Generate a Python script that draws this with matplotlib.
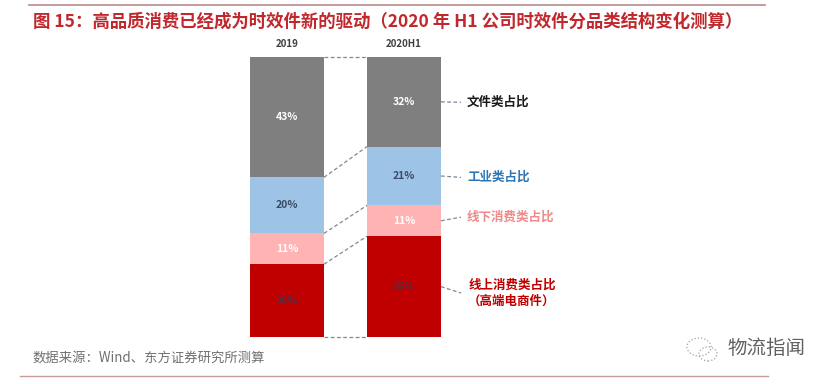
import matplotlib
matplotlib.use("Agg")
import matplotlib.pyplot as plt
from matplotlib.patches import Ellipse
from matplotlib.lines import Line2D
import numpy as np

plt.rcParams['font.family'] = ['Noto Sans CJK SC', 'DejaVu Sans']

# ---- data ----
periods = ["2019", "2020H1"]
segments = ["线上消费类占比", "线下消费类占比", "工业类占比", "文件类占比"]  # bottom -> top
online = [26, 36]
offline = [11, 11]
industrial = [20, 21]
documents = [43, 32]
value_labels_online = ["26%", "36%"]
value_labels_offline = ["11%", "11%"]
value_labels_industrial = ["20%", "21%"]
value_labels_documents = ["43%", "32%"]
right_labels = ["线上消费类占比\n（高端电商件）", "线下消费类占比", "工业类占比", "文件类占比"]

title = "图 15：高品质消费已经成为时效件新的驱动（2020 年 H1 公司时效件分品类结构变化测算）"
source = "数据来源：Wind、东方证券研究所测算"
watermark = "物流指闻"

# ---- styles ----
seg_colors = ["#c00000", "#ffb3b3", "#9dc3e6", "#7f7f7f"]
seg_text_colors = ["#5a2c40", "#ffffff", "#3b4a68", "#ffffff"]
label_colors = ["#c00000", "#ee8a8a", "#2e75b6", "#1a1a1a"]
conn_color = "#7a8899"

W, H = 832, 384
fig = plt.figure(figsize=(W / 100, H / 100), dpi=100)

def fx(px):
    return px / W

def fy(py):
    return 1 - py / H

# axes: bars span y 57..337 px, bar centers at 287 and 404 px
left_px, right_px = 230, 620
top_px, bot_px = 57, 337
c0, unit = 287, 117
ax = fig.add_axes([fx(left_px), fy(bot_px), fx(right_px - left_px), (bot_px - top_px) / H])
ax.set_xlim((left_px - c0) / unit, (right_px - c0) / unit)
ax.set_ylim(0, 100)
ax.axis("off")

bw = 74 / unit
x = np.arange(len(periods))
series = [online, offline, industrial, documents]
texts = [value_labels_online, value_labels_offline, value_labels_industrial, value_labels_documents]
bottom = np.zeros(len(periods))
bounds = [bottom.copy()]
for vals, col, tcol, labs in zip(series, seg_colors, seg_text_colors, texts):
    v = np.array(vals, dtype=float)
    ax.bar(x, v, bw, bottom=bottom, color=col, edgecolor="none")
    for i in range(len(periods)):
        ax.text(x[i], bottom[i] + v[i] / 2, labs[i], ha="center", va="center",
                fontsize=7.5, fontweight="bold", color=tcol)
    bottom = bottom + v
    bounds.append(bottom.copy())

# period labels above bars
for i, p in enumerate(periods):
    ax.text(x[i], 103, p, ha="center", va="bottom", fontsize=7, fontweight="bold",
            color="#404040", clip_on=False)

# dashed connectors between bars
for b in bounds:
    ax.plot([x[0] + bw / 2, x[1] - bw / 2], [b[0], b[1]], ls=(0, (3, 2)), lw=0.9,
            color=conn_color, clip_on=False)

# right-side labels with leader lines
lab_x = (467 - c0) / unit
lead_end = (461 - c0) / unit
label_y = [15.7, 42.8, 57.0, 83.8]
for k, vals in enumerate(series):
    seg_mid = bounds[k][1] + vals[1] / 2
    ax.plot([x[1] + bw / 2, lead_end], [seg_mid, label_y[k]], ls=(0, (3, 2)), lw=0.9,
            color=conn_color, clip_on=False)
    if k == 0:
        ax.text((512 - c0) / unit, label_y[k], right_labels[k], ha="center", va="center",
                multialignment="center", fontsize=9, fontweight="bold",
                color=label_colors[k], linespacing=1.25, clip_on=False)
    else:
        ax.text(lab_x, label_y[k], right_labels[k], ha="left", va="center", fontsize=9,
                fontweight="bold", color=label_colors[k], clip_on=False)

# title, rules, source
fig.add_artist(Line2D([fx(29), fx(765)], [fy(5), fy(5)], color="#b98a8a", lw=1.2))
fig.text(fx(33), fy(22), title, ha="left", va="center", fontsize=12.55,
         fontweight="bold", color="#c0282d")
fig.text(fx(33), fy(358), source, ha="left", va="center", fontsize=9.6, color="#707070")
fig.add_artist(Line2D([fx(20), fx(768)], [fy(376), fy(376)], color="#c99a9a", lw=1.0))

# watermark
fig.text(fx(727), fy(348), watermark, ha="left", va="center", fontsize=14, color="#606060")
ax_icon = fig.add_axes([fx(684), fy(364), fx(38), 30 / H])
ax_icon.set_xlim(0, 38)
ax_icon.set_ylim(0, 30)
ax_icon.axis("off")
ax_icon.add_patch(Ellipse((15, 17), 24, 18, fill=False, ec="#a0a0a0", lw=0.9, ls=":"))
ax_icon.add_patch(Ellipse((24, 10), 18, 14, fill=False, ec="#a0a0a0", lw=0.9, ls=":"))

fig.savefig("out.png", dpi=100, facecolor="white")
